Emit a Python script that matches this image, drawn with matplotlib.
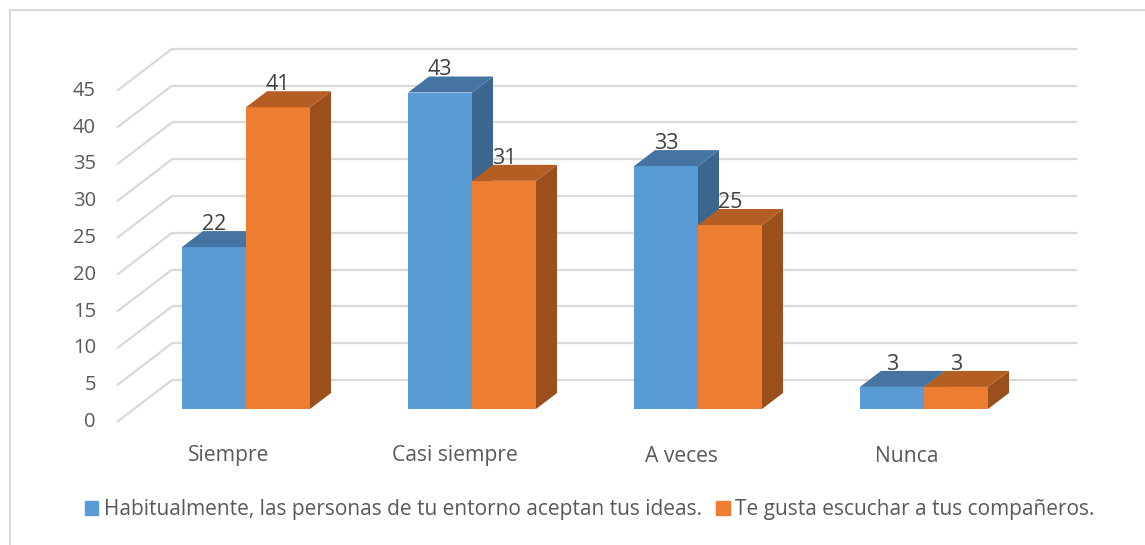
import numpy as np
import matplotlib
matplotlib.use('Agg')
import matplotlib.pyplot as plt
from matplotlib.patches import Polygon, Patch

# data
categories = ['Siempre', 'Casi siempre', 'A veces', 'Nunca']
ideas = [22, 43, 33, 3]
escuchar = [41, 31, 25, 3]
series_names = ['Habitualmente, las personas de tu entorno aceptan tus ideas.',
                'Te gusta escuchar a tus compañeros.']
yticks = list(range(0, 50, 5))

# colours (front, top, side)
blue = ('#5b9bd5', '#4574a2', '#3b6690')
orange = ('#ed7d31', '#b45e23', '#9b4f1c')
grid_col = '#d9d9d9'
text_col = '#595959'

plt.rcParams['font.family'] = ['Open Sans', 'DejaVu Sans']

W, H = 1145, 545
fig = plt.figure(figsize=(W / 100, H / 100), dpi=100)
ax = fig.add_axes([0, 0, 1, 1])

# pixel scale of the layout: one category = 226 px, one value unit = 7.36 px
px_x = 226.0
px_y = 7.36
x0_px, y0_px = 246, 409
ax.set_xlim(-x0_px / px_x, (W - x0_px) / px_x)
ax.set_ylim((y0_px - H) / px_y, y0_px / px_y)
ax.axis('off')

# oblique offsets of the 3d look (bar depth, front of floor, back wall)
bar_dx, bar_dy = 21 / px_x, 16 / px_y
front_dx, front_dy = -17 / px_x, -13 / px_y
back_dx, back_dy = 38 / px_x, 29 / px_y
wall_left = -112 / px_x           # left edge of walls on the bar plane
wall_right = 1077 / px_x - x0_px / px_x

# gridlines: side wall diagonals + back wall horizontals
for v in yticks:
    ax.plot([wall_left + front_dx, wall_left + back_dx], [v + front_dy, v + back_dy],
            color=grid_col, lw=1.6, zorder=1, solid_capstyle='butt')
    ax.plot([wall_left + back_dx, wall_right], [v + back_dy, v + back_dy],
            color=grid_col, lw=1.6, zorder=1, solid_capstyle='butt')

width = 64 / px_x
x = np.arange(len(categories))


def bar3d(left, h, cols):
    ax.bar(left, h, width=width, align='edge', color=cols[0], zorder=3)
    top = [(left, h), (left + width, h), (left + width + bar_dx, h + bar_dy), (left + bar_dx, h + bar_dy)]
    side = [(left + width, 0), (left + width + bar_dx, bar_dy),
            (left + width + bar_dx, h + bar_dy), (left + width, h)]
    ax.add_patch(Polygon(side, closed=True, facecolor=cols[2], edgecolor='none', zorder=3))
    ax.add_patch(Polygon(top, closed=True, facecolor=cols[1], edgecolor='none', zorder=3))
    ax.text(left + width / 2, h + bar_dy - 0.5, str(h), ha='center', va='bottom',
            fontsize=15.5, color='#404040', zorder=5)


for i in range(len(categories)):
    bar3d(x[i] - width, ideas[i], blue)
    bar3d(x[i], escuchar[i], orange)

# axis labels
for v in yticks:
    ax.text(-150 / px_x, v + front_dy, str(v), ha='right', va='center',
            fontsize=14.5, color=text_col)
for i, c in enumerate(categories):
    ax.text(x[i] + front_dx, -47 / px_y, c, ha='center', va='center',
            fontsize=15.2, color=text_col)

# legend
handles = [Patch(color=blue[0]), Patch(color=orange[0])]
fig.legend(handles, series_names, loc='center', ncol=2, frameon=False,
           bbox_to_anchor=(0.515, 1 - 510 / H), fontsize=15, labelcolor=text_col,
           handlelength=0.65, handleheight=0.65, handletextpad=0.25, columnspacing=0.7)

# chart border
fig.add_artist(plt.Line2D([10 / W, 10 / W], [0, 1 - 10 / H], color=grid_col, lw=1.5))
fig.add_artist(plt.Line2D([10 / W, 1], [1 - 10 / H, 1 - 10 / H], color=grid_col, lw=1.5))

fig.savefig('out.png', dpi=100)
